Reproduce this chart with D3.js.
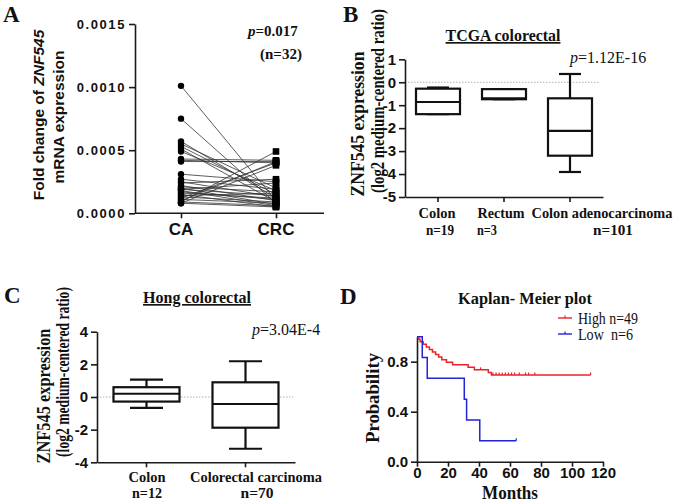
<!DOCTYPE html>
<html><head><meta charset="utf-8">
<script src="https://cdn.jsdelivr.net/npm/d3@7"></script>
<style>body{margin:0;background:#fff}svg{display:block}</style>
</head><body>
<svg id="c" width="677" height="503"></svg>
<script>
// ---------- DATA ----------
// Panel A: paired CA vs CRC fold change
const pairGroups = ["CA", "CRC"];
const caValues  = [0.00101,0.00075,0.00057,0.00055,0.00053,0.00051,0.00049,0.00043,0.00042,0.00041,0.00031,0.00027,0.00025,0.00024,0.00022,0.00021,0.00020,0.00019,0.00019,0.00018,0.00017,0.00016,0.00015,0.00014,0.00013,0.00012,0.00011,0.00010,0.00009,0.00009,0.00008,0.00008];
const crcValues = [0.00010,0.00008,0.00012,0.00020,0.00015,0.00009,0.00018,0.00042,0.00040,0.00041,0.00025,0.00019,0.00013,0.00027,0.00010,0.00017,0.00007,0.00014,0.00024,0.00006,0.00011,0.00012,0.00005,0.00016,0.00009,0.00040,0.00008,0.00041,0.00049,0.00006,0.00038,0.00005];
const aTicks = [0, 0.0005, 0.0010, 0.0015];

// Panel B: TCGA colorectal box stats [whiskerLow, q1, median, q3, whiskerHigh]
const bCategories = ["Colon", "Rectum", "Colon adenocarcinoma"];
const bCounts = ["n=19", "n=3", "n=101"];
const bStats = [[-1.39,-1.39,-0.86,-0.28,-0.23],[-0.74,-0.74,-0.70,-0.30,-0.30],[-3.91,-3.20,-2.12,-0.70,0.36]];
const bTicks = [-5,-4,-3,-2,-1,0,1];

// Panel C: Hong colorectal
const cCategories = ["Colon", "Colorectal carcinoma"];
const cCounts = ["n=12", "n=70"];
const cStats = [[-0.67,-0.28,0.20,0.60,1.07],[-3.17,-1.88,-0.43,0.90,2.19]];
const cTicks = [-4,-2,0,2,4];

// Panel D: Kaplan-Meier steps [month, survival]
const highSteps = [[0,1.0],[1,0.980],[2,0.959],[4,0.939],[6,0.918],[8,0.898],[10,0.878],[12,0.857],[14,0.837],[16,0.816],[19,0.796],[23,0.776],[33,0.755],[37,0.735],[46,0.714],[48,0.694],[112,0.694]];
const highCensor = [[41,0.735],[49,0.694],[51,0.694],[53,0.694],[55,0.694],[57,0.694],[59,0.694],[61,0.694],[63,0.694],[66,0.694],[70,0.694],[72,0.694],[76,0.694],[112,0.694]];
const lowSteps = [[0,1.0],[3.4,0.833],[6.6,0.667],[30.5,0.5],[32,0.333],[40.5,0.167],[64,0.167]];
const lowCensor = [[64,0.167]];
const legendLabels = ["High n=49", "Low  n=6"];
const dXTicks = [0,20,40,60,80,100,120];
const dYTicks = [0,0.4,0.8];

// ---------- DRAW ----------
const svg = d3.select("#c");
svg.append("rect").attr("width",677).attr("height",503).attr("fill","#fff");
const SERIF = "'Liberation Serif','Times New Roman',serif";
const SANS = "'Liberation Sans',Arial,sans-serif";
const AX = "#1a1a1a";

function styleAxis(g, fontSize, family, weight){
  g.selectAll("path.domain").attr("stroke",AX).attr("stroke-width",1.6);
  g.selectAll(".tick line").attr("stroke",AX).attr("stroke-width",1.6);
  g.selectAll(".tick text").attr("font-family",family).attr("font-size",fontSize).attr("font-weight",weight).attr("fill","#111");
}
// horizontal text; if o.len given, squeeze horizontally with a scale transform
function txt(x,y,s,o={}){
  const t = svg.append("text").text(s)
    .attr("font-family",o.family||SERIF).attr("font-size",o.size||15)
    .attr("font-weight",o.weight||"bold").attr("fill","#111")
    .attr("text-anchor",o.anchor||"start").attr("xml:space","preserve");
  if(o.italic) t.attr("font-style","italic");
  if(o.underline) t.attr("text-decoration","underline");
  let sx = 1;
  if(o.len){ const n = t.node().getComputedTextLength(); if(n>0) sx = o.len/n; }
  t.attr("transform",`translate(${x},${y}) scale(${sx},1)`);
  return t;
}
function vtxt(cx,cy,s,len,o={}){
  const t = svg.append("text")
    .attr("text-anchor","middle").attr("font-family",o.family||SERIF).attr("font-size",o.size||18)
    .attr("font-weight","bold").attr("fill","#111").text(s);
  let sx = 1;
  if(len){ const n = t.node().getComputedTextLength(); if(n>0) sx = len/n; }
  t.attr("transform",`translate(${cx},${cy}) rotate(-90) scale(${sx},1)`);
  return t;
}

// Panel letters
txt(3,22,"A",{size:23});
txt(343,22,"B",{size:23});
txt(4,303,"C",{size:23});
txt(340,304,"D",{size:23});

// ===== Panel A =====
const yA = d3.scaleLinear().domain([0,0.0015]).range([213.3,24]);
const xA = d3.scalePoint().domain(pairGroups).range([181,276]);
const gAy = svg.append("g").attr("transform","translate(135,0)")
  .call(d3.axisLeft(yA).tickValues(aTicks).tickFormat(d3.format(".4f")).tickSize(6).tickSizeOuter(0));
styleAxis(gAy,13,SANS,"bold");
gAy.selectAll(".tick text").attr("letter-spacing","1.6px").attr("x",-9);
const gAx = svg.append("g").attr("transform","translate(0,213.3)")
  .call(d3.axisBottom(xA).tickSize(5).tickSizeOuter(0).tickFormat(""));
styleAxis(gAx,16,SANS,"bold");
gAx.select("path.domain").remove();
svg.append("line").attr("x1",135).attr("x2",324).attr("y1",213.3).attr("y2",213.3).attr("stroke",AX).attr("stroke-width",1.6);
pairGroups.forEach(g=>txt(xA(g),235,g,{family:SANS,size:17,anchor:"middle"}));
const pairs = caValues.map((v,i)=>[v,crcValues[i]]);
svg.append("g").selectAll("line").data(pairs).join("line")
  .attr("x1",xA("CA")).attr("x2",xA("CRC")).attr("y1",d=>yA(d[0])).attr("y2",d=>yA(d[1]))
  .attr("stroke","#333").attr("stroke-width",0.8);
svg.append("g").selectAll("circle").data(caValues).join("circle")
  .attr("cx",xA("CA")).attr("cy",d=>yA(d)).attr("r",3.2).attr("fill","#000");
svg.append("g").selectAll("rect").data(crcValues).join("rect")
  .attr("x",xA("CRC")-3.3).attr("y",d=>yA(d)-3.3).attr("width",6.6).attr("height",6.6).attr("fill","#000");
const yl = svg.append("text").attr("transform","translate(44,115) rotate(-90)").attr("text-anchor","middle")
  .attr("font-family",SANS).attr("font-size",15.5).attr("font-weight","bold").attr("fill","#111");
yl.append("tspan").text("Fold change of ");
yl.append("tspan").attr("font-style","italic").text("ZNF545");
svg.append("text").attr("transform","translate(64,117) rotate(-90)").attr("text-anchor","middle")
  .attr("font-family",SANS).attr("font-size",15.5).attr("font-weight","bold").attr("fill","#111").text("mRNA expression");
const pA = txt(248,36,"",{size:15});
pA.append("tspan").attr("font-style","italic").text("p");
pA.append("tspan").text("=0.017");
txt(260,59,"(n=32)",{size:15});

// ===== Box plot helper =====
function boxPlot(x, y, cats, stats){
  const bw = x.bandwidth()*2/3;
  cats.forEach((c,i)=>{
    const [wl,q1,md,q3,wh] = stats[i];
    const cx = x(c)+x.bandwidth()/2;
    const g = svg.append("g").attr("stroke","#111").attr("stroke-width",2.2).attr("fill","none");
    g.append("line").attr("x1",cx).attr("x2",cx).attr("y1",y(wh)).attr("y2",y(q3));
    g.append("line").attr("x1",cx).attr("x2",cx).attr("y1",y(q1)).attr("y2",y(wl));
    g.append("line").attr("x1",cx-bw/4).attr("x2",cx+bw/4).attr("y1",y(wh)).attr("y2",y(wh));
    g.append("line").attr("x1",cx-bw/4).attr("x2",cx+bw/4).attr("y1",y(wl)).attr("y2",y(wl));
    g.append("rect").attr("x",cx-bw/2).attr("y",y(q3)).attr("width",bw).attr("height",Math.max(0.5,y(q1)-y(q3))).attr("fill","#fff");
    g.append("line").attr("x1",cx-bw/2).attr("x2",cx+bw/2).attr("y1",y(md)).attr("y2",y(md));
  });
}

// ===== Panel B =====
const yB = d3.scaleLinear().domain([-5,1]).range([197,59.3]);
const xB = d3.scaleBand().domain(bCategories).range([405,603]).padding(0);
svg.append("line").attr("x1",405).attr("x2",600).attr("y1",yB(0)).attr("y2",yB(0))
  .attr("stroke","#999").attr("stroke-width",0.8).attr("stroke-dasharray","1.5,1.5");
const gBy = svg.append("g").attr("transform","translate(405,0)")
  .call(d3.axisLeft(yB).tickValues(bTicks).tickFormat(d3.format("d")).tickSize(6).tickSizeOuter(0));
styleAxis(gBy,15,SANS,"bold");
gBy.selectAll(".tick text").text(d=>d<0?"-"+Math.abs(d):d);
const gBx = svg.append("g").attr("transform",`translate(0,${yB(-5)})`)
  .call(d3.axisBottom(xB).tickSize(5).tickSizeOuter(0).tickFormat(""));
styleAxis(gBx,15,SERIF,"bold");
boxPlot(xB,yB,bCategories,bStats);
const bLabelX = [437,501,602], bCountX = [440,487,613];
const bLabelLen = [37,47,141], bCountLen = [28,20,40];
bCategories.forEach((c,i)=>{
  txt(bLabelX[i],218,c,{size:15.5,anchor:"middle",len:bLabelLen[i]});
  txt(bCountX[i],235,bCounts[i],{size:15.5,anchor:"middle",len:bCountLen[i]});
});
txt(503,41,"TCGA colorectal",{size:16.5,anchor:"middle",underline:true,len:115});
const pB = txt(570,63,"",{size:16,weight:"normal"});
pB.append("tspan").attr("font-style","italic").text("p");
pB.append("tspan").text("=1.12E-16");
vtxt(364,124,"ZNF545 expression",145,{size:18.5});
vtxt(384,101,"(log2 medium-centered ratio)",184,{size:18.5});

// ===== Panel C =====
const yC = d3.scaleLinear().domain([-4,4]).range([462.3,331.7]);
const xC = d3.scaleBand().domain(cCategories).range([97,295]).padding(0);
svg.append("line").attr("x1",97).attr("x2",293).attr("y1",yC(0)).attr("y2",yC(0))
  .attr("stroke","#999").attr("stroke-width",0.8).attr("stroke-dasharray","1.5,1.5");
const gCy = svg.append("g").attr("transform","translate(97,0)")
  .call(d3.axisLeft(yC).tickValues(cTicks).tickFormat(d3.format("d")).tickSize(6).tickSizeOuter(0));
styleAxis(gCy,15,SANS,"bold");
gCy.selectAll(".tick text").text(d=>d<0?"-"+Math.abs(d):d);
const gCx = svg.append("g").attr("transform",`translate(0,${yC(-4)})`)
  .call(d3.axisBottom(xC).tickSize(5).tickSizeOuter(0).tickFormat(""));
styleAxis(gCx,15,SERIF,"bold");
boxPlot(xC,yC,cCategories,cStats);
const cLabelX = [147,256], cCountX = [147,257];
const cLabelLen = [37,132], cCountLen = [30,33];
cCategories.forEach((c,i)=>{
  txt(cLabelX[i],482,c,{size:15.5,anchor:"middle",len:cLabelLen[i]});
  txt(cCountX[i],498,cCounts[i],{size:15.5,anchor:"middle",len:cCountLen[i]});
});
txt(197,303,"Hong colorectal",{size:16.5,anchor:"middle",underline:true,len:108});
const pC = txt(252,335,"",{size:16,weight:"normal"});
pC.append("tspan").attr("font-style","italic").text("p");
pC.append("tspan").text("=3.04E-4");
vtxt(50,396,"ZNF545 expression",135,{size:18.5});
vtxt(69,372,"(log2 medium-centered ratio)",170,{size:18.5});

// ===== Panel D =====
const xD = d3.scaleLinear().domain([0,120]).range([417,603]);
const yD = d3.scaleLinear().domain([0,1]).range([461.7,336.7]);
const gDy = svg.append("g").attr("transform","translate(417,0)")
  .call(d3.axisLeft(yD).tickValues(dYTicks).tickFormat(d3.format(".1f")).tickSize(6).tickSizeOuter(0));
styleAxis(gDy,15,SANS,"bold");
const gDx = svg.append("g").attr("transform",`translate(0,${yD(0)})`)
  .call(d3.axisBottom(xD).tickValues(dXTicks).tickFormat(d3.format("d")).tickSize(5).tickSizeOuter(0));
styleAxis(gDx,15,SANS,"bold");
gDx.selectAll(".tick text").attr("y",6).attr("dy","0.71em");
const stepLine = d3.line().x(d=>xD(d[0])).y(d=>yD(d[1])).curve(d3.curveStepAfter);
const RED = "#e8232b", BLUE = "#2323d6";
svg.append("path").datum(highSteps).attr("d",stepLine).attr("fill","none").attr("stroke",RED).attr("stroke-width",1.5);
svg.append("path").datum(lowSteps).attr("d",stepLine).attr("fill","none").attr("stroke",BLUE).attr("stroke-width",1.5);
svg.append("g").selectAll("line").data(highCensor).join("line")
  .attr("x1",d=>xD(d[0])).attr("x2",d=>xD(d[0])).attr("y1",d=>yD(d[1])-2.5).attr("y2",d=>yD(d[1])).attr("stroke",RED).attr("stroke-width",1.2);
svg.append("g").selectAll("line").data(lowCensor).join("line")
  .attr("x1",d=>xD(d[0])).attr("x2",d=>xD(d[0])).attr("y1",d=>yD(d[1])-2.5).attr("y2",d=>yD(d[1])).attr("stroke",BLUE).attr("stroke-width",1.2);
const legLen = [60,55];
[RED,BLUE].forEach((col,i)=>{
  const ly = 318 + i*16;
  svg.append("line").attr("x1",558).attr("x2",572).attr("y1",ly).attr("y2",ly).attr("stroke",col).attr("stroke-width",1.4);
  svg.append("line").attr("x1",565).attr("x2",565).attr("y1",ly-2.5).attr("y2",ly).attr("stroke",col).attr("stroke-width",1.2);
  txt(578,ly+6,legendLabels[i],{size:16,weight:"normal",len:legLen[i]});
});
txt(525,304,"Kaplan- Meier plot",{size:16.5,anchor:"middle",len:134});
txt(510,499,"Months",{size:18,anchor:"middle",len:56});
vtxt(379,398,"Probability",90,{size:19});
</script>
</body></html>
